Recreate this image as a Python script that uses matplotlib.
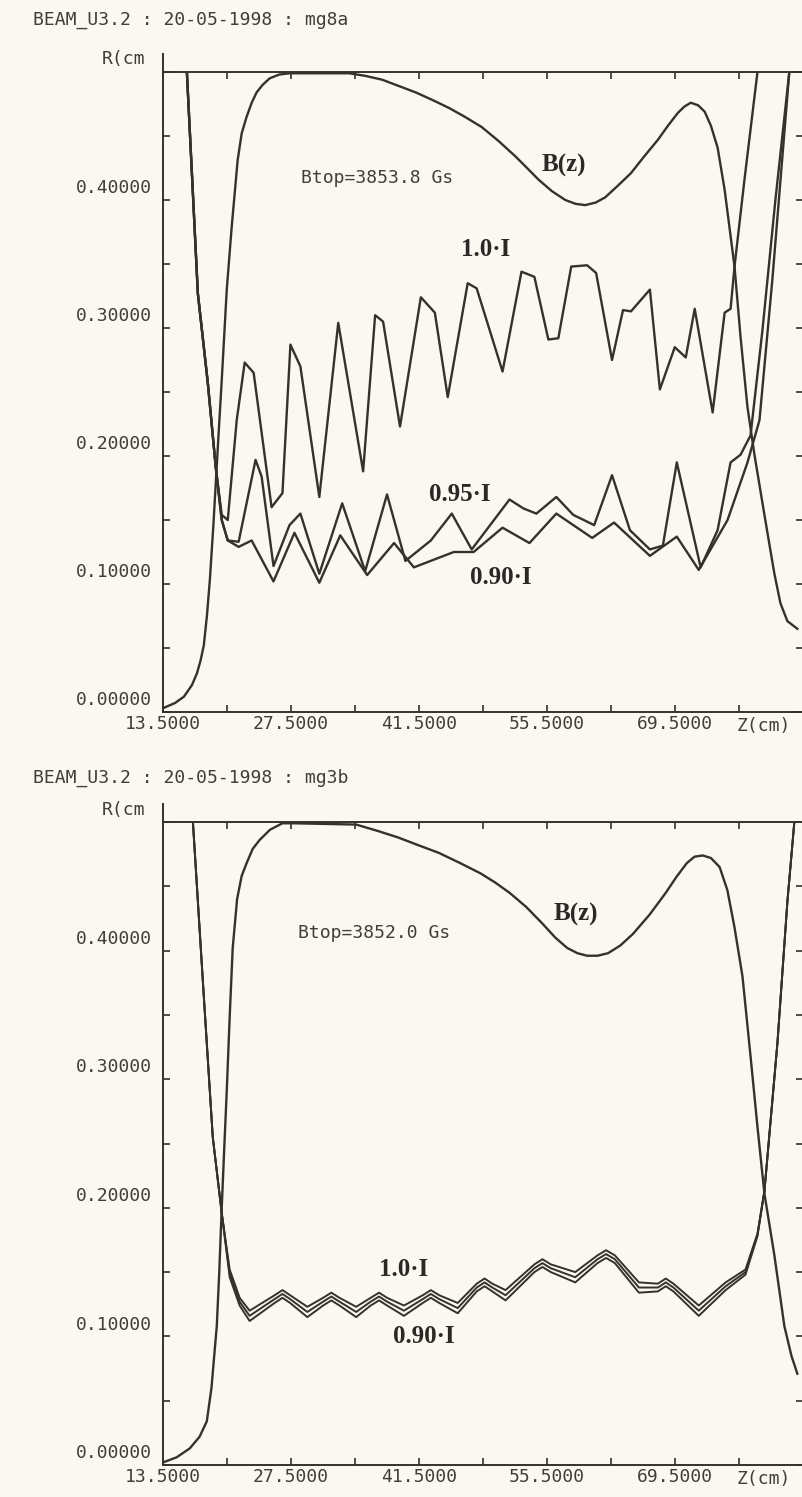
import numpy as np
import matplotlib.pyplot as plt
from matplotlib.transforms import ScaledTranslation

# ---------------- run mg8a (Btop = 3853.8 Gs) ----------------
z_b_a = [13.5, 14.81, 15.79, 16.66, 17.20, 17.6, 17.96, 18.3, 18.62, 19.0, 19.27, 19.6,
         19.92, 20.47, 21.01, 21.66, 22.1, 22.64, 23.2, 23.73, 24.4, 25.15, 26.2, 27.33,
         33.86, 35.6, 37.45, 39.3, 41.15, 43.0, 44.74, 46.5, 48.34, 50.2, 52.04, 53.3,
         54.54, 56.0, 57.48, 58.6, 59.66, 60.8, 61.83, 63.2, 64.66, 66.1, 67.60, 68.7,
         69.78, 70.5, 71.20, 72.0, 72.72, 73.4, 74.13, 74.90, 75.98, 76.64, 77.40, 78.16,
         79.25, 80.34, 81.0, 81.76, 82.85]
r_b_a = [0.003, 0.007, 0.012, 0.021, 0.030, 0.040, 0.052, 0.075, 0.103, 0.145, 0.179, 0.220,
         0.259, 0.330, 0.379, 0.431, 0.452, 0.465, 0.476, 0.484, 0.490, 0.495, 0.498, 0.499,
         0.499, 0.497, 0.494, 0.489, 0.484, 0.478, 0.472, 0.465, 0.457, 0.446, 0.434, 0.425,
         0.416, 0.407, 0.400, 0.397, 0.396, 0.398, 0.402, 0.411, 0.421, 0.434, 0.447, 0.458,
         0.468, 0.473, 0.476, 0.474, 0.469, 0.458, 0.441, 0.408, 0.348, 0.293, 0.238, 0.201,
         0.154, 0.108, 0.085, 0.071, 0.065]

z_i100_a = [16.11, 16.77, 17.31, 18.40, 19.27, 19.92, 20.58, 21.56, 22.43, 23.41, 25.37,
            26.56, 27.43, 28.52, 30.59, 32.66, 35.38, 36.69, 37.56, 39.41, 41.69, 43.22,
            44.63, 46.81, 47.79, 50.62, 52.69, 54.10, 55.63, 56.72, 58.13, 59.87, 60.85,
            62.59, 63.79, 64.66, 66.73, 67.82, 69.45, 70.65, 71.63, 73.59, 74.90, 75.55,
            75.98, 77.07, 78.49]
r_i100_a = [0.500, 0.405, 0.327, 0.257, 0.191, 0.154, 0.150, 0.228, 0.273, 0.265, 0.160,
            0.171, 0.287, 0.270, 0.168, 0.304, 0.188, 0.310, 0.305, 0.223, 0.324, 0.312,
            0.246, 0.335, 0.331, 0.266, 0.344, 0.340, 0.291, 0.292, 0.348, 0.349, 0.343,
            0.275, 0.314, 0.313, 0.330, 0.252, 0.285, 0.277, 0.315, 0.234, 0.312, 0.315,
            0.348, 0.416, 0.500]

z_i095_a = [16.11, 16.77, 17.31, 18.40, 19.27, 19.92, 20.58, 21.77, 23.62, 24.28, 25.58,
            27.33, 28.52, 30.59, 33.09, 35.60, 37.99, 40.00, 42.78, 45.07, 47.25, 51.38,
            52.91, 54.32, 56.50, 58.35, 60.64, 62.59, 64.55, 66.73, 68.15, 69.67, 72.28,
            74.13, 75.55, 76.64, 77.73, 79.03, 80.45, 81.97]
r_i095_a = [0.500, 0.405, 0.327, 0.257, 0.191, 0.150, 0.134, 0.133, 0.197, 0.184, 0.114,
            0.146, 0.155, 0.108, 0.163, 0.110, 0.170, 0.118, 0.134, 0.155, 0.127, 0.166,
            0.159, 0.155, 0.168, 0.154, 0.146, 0.185, 0.142, 0.127, 0.130, 0.195, 0.113,
            0.142, 0.195, 0.201, 0.216, 0.298, 0.400, 0.500]

z_i090_a = [16.11, 16.77, 17.31, 18.40, 19.27, 19.92, 20.58, 21.77, 23.19, 25.58, 27.87,
            30.59, 32.88, 35.82, 38.76, 40.93, 45.29, 47.46, 50.62, 53.56, 56.50, 60.42,
            62.81, 66.73, 69.67, 72.07, 75.22, 77.40, 78.71, 80.12, 81.97]
r_i090_a = [0.500, 0.405, 0.327, 0.257, 0.191, 0.150, 0.134, 0.129, 0.134, 0.102, 0.140,
            0.101, 0.138, 0.107, 0.132, 0.113, 0.125, 0.125, 0.144, 0.132, 0.155, 0.136,
            0.148, 0.122, 0.137, 0.111, 0.150, 0.195, 0.228, 0.338, 0.500]

# ---------------- run mg3b (Btop = 3852.0 Gs) ----------------
z_b_b = [13.5, 15.0, 16.44, 17.5, 18.29, 18.8, 19.1, 19.38, 19.65, 19.92, 20.2, 20.47,
         20.8, 21.12, 21.6, 22.1, 22.64, 23.3, 24.06, 25.2, 26.56, 27.87, 34.62, 37.0,
         39.19, 41.4, 43.65, 46.0, 48.23, 49.8, 51.38, 53.2, 54.98, 56.4, 57.70, 58.8,
         59.87, 61.0, 62.16, 63.5, 64.88, 66.7, 68.47, 69.6, 70.76, 71.6, 72.50, 73.4,
         74.35, 75.2, 75.98, 76.85, 77.73, 78.49, 79.25, 80.34, 81.43, 82.2, 82.85]
r_b_b = [0.002, 0.006, 0.013, 0.022, 0.034, 0.060, 0.085, 0.108, 0.150, 0.200, 0.247, 0.291,
         0.350, 0.402, 0.440, 0.458, 0.468, 0.479, 0.486, 0.494, 0.499, 0.499, 0.498, 0.493,
         0.488, 0.482, 0.476, 0.468, 0.460, 0.453, 0.445, 0.434, 0.421, 0.410, 0.402, 0.398,
         0.396, 0.396, 0.398, 0.404, 0.413, 0.428, 0.445, 0.457, 0.468, 0.473, 0.474, 0.472,
         0.465, 0.447, 0.418, 0.380, 0.318, 0.263, 0.211, 0.163, 0.108, 0.085, 0.071]

z_rip_b = [16.77, 17.85, 18.94, 19.92, 20.79, 21.88, 22.97,
           25.7, 26.56, 27.4, 29.28, 31.0, 31.90, 32.8, 34.62,
           36.2, 37.12, 38.0, 39.84, 41.9, 42.78, 43.7, 45.72,
           47.8, 48.66, 49.5, 50.95, 54.1, 54.98, 55.9, 58.57,
           61.0, 61.94, 62.9, 65.53, 67.6, 68.47, 69.3, 72.07,
           75.01, 77.18, 78.49, 79.25, 80.67, 81.76, 82.52]
r_i100_b = [0.500, 0.377, 0.255, 0.196, 0.152, 0.130, 0.120,
            0.132, 0.136, 0.132, 0.123, 0.130, 0.134, 0.130, 0.123,
            0.130, 0.134, 0.130, 0.124, 0.132, 0.136, 0.132, 0.126,
            0.141, 0.145, 0.141, 0.136, 0.156, 0.160, 0.156, 0.150,
            0.163, 0.167, 0.163, 0.142, 0.141, 0.145, 0.141, 0.124,
            0.142, 0.152, 0.180, 0.213, 0.328, 0.438, 0.500]
r_i095_b = [0.500, 0.377, 0.255, 0.196, 0.149, 0.127, 0.116,
            0.129, 0.133, 0.129, 0.119, 0.127, 0.131, 0.127, 0.119,
            0.127, 0.131, 0.127, 0.120, 0.129, 0.133, 0.129, 0.122,
            0.138, 0.142, 0.138, 0.132, 0.153, 0.157, 0.153, 0.146,
            0.160, 0.164, 0.160, 0.138, 0.138, 0.142, 0.138, 0.120,
            0.139, 0.150, 0.179, 0.213, 0.328, 0.438, 0.500]
r_i090_b = [0.500, 0.377, 0.255, 0.196, 0.146, 0.124, 0.112,
            0.126, 0.130, 0.126, 0.115, 0.124, 0.128, 0.124, 0.115,
            0.124, 0.128, 0.124, 0.116, 0.126, 0.130, 0.126, 0.118,
            0.135, 0.139, 0.135, 0.128, 0.150, 0.154, 0.150, 0.142,
            0.157, 0.161, 0.157, 0.134, 0.135, 0.139, 0.135, 0.116,
            0.136, 0.148, 0.178, 0.213, 0.328, 0.438, 0.500]

x_ticks = np.arange(13.5, 84, 7)
x_labels = ['13.5000', '', '27.5000', '', '41.5000', '', '55.5000', '', '69.5000', '', '']
y_ticks = np.arange(0, 0.501, 0.05)
y_labels = ['0.00000', '', '0.10000', '', '0.20000', '', '0.30000', '', '0.40000', '', '']

paper = '#faf8f1'
ink = '#35312c'
dos = '#403f36'
mono = 'DejaVu Sans Mono'
hand = dict(family='Liberation Serif', fontweight='bold', fontsize=18, color='#2b2926')

W, H = 802, 1497
fig = plt.figure(figsize=(W / 100, H / 100), dpi=100, facecolor=paper)


def frame(top_px, bottom_px):
    ax = fig.add_axes([163 / W, 1 - bottom_px / H, (803.3 - 163) / W, (bottom_px - top_px) / H])
    ax.set_facecolor(paper)
    ax.set_xlim(13.5, 83.2)
    ax.set_ylim(0, 0.5)
    for s in ax.spines.values():
        s.set_color(ink)
        s.set_linewidth(1.4)
    ax.set_xticks(x_ticks)
    ax.set_xticklabels(x_labels, family=mono, fontsize=13, color=dos)
    ax.set_yticks(y_ticks)
    ax.set_yticklabels(y_labels, family=mono, fontsize=13, color=dos)
    ax.tick_params(direction='in', length=5, width=1.2, color=ink,
                   top=True, right=True, pad=8)
    ax.tick_params(axis='x', pad=2)
    # printer put the numbers a little above their ticks
    shift = ScaledTranslation(0, 10 / 72, fig.dpi_scale_trans)
    for lab in ax.get_yticklabels():
        lab.set_transform(lab.get_transform() + shift)
    ax.text(76.2, -0.004, 'Z(cm)', family=mono, fontsize=13, color=dos,
            ha='left', va='top', clip_on=False)
    # y axis sticks out above the frame
    ax.plot([0, 0], [1, 1.028], transform=ax.transAxes, color=ink, lw=1.4, clip_on=False)
    return ax


def curve(ax, z, r, lw=1.7):
    ax.plot(z, r, color=ink, lw=lw, solid_joinstyle='round')


# upper plot
ax1 = frame(72, 712)
curve(ax1, z_b_a, r_b_a)
curve(ax1, z_i100_a, r_i100_a)
curve(ax1, z_i095_a, r_i095_a)
curve(ax1, z_i090_a, r_i090_a)
ax1.text(28.6, 0.417, 'Btop=3853.8 Gs', family=mono, fontsize=13, color=dos, va='center')
ax1.text(57.3, 0.427, 'B(z)', ha='center', va='center', **hand)
ax1.text(48.8, 0.361, '1.0\u00b7I', ha='center', va='center', **hand)
ax1.text(45.9, 0.170, '0.95\u00b7I', ha='center', va='center', **hand)
ax1.text(50.4, 0.105, '0.90\u00b7I', ha='center', va='center', **hand)

# lower plot
ax2 = frame(822, 1465)
curve(ax2, z_b_b, r_b_b)
curve(ax2, z_rip_b, r_i100_b, lw=1.4)
curve(ax2, z_rip_b, r_i095_b, lw=1.4)
curve(ax2, z_rip_b, r_i090_b, lw=1.4)
ax2.text(28.3, 0.414, 'Btop=3852.0 Gs', family=mono, fontsize=13, color=dos, va='center')
ax2.text(58.6, 0.428, 'B(z)', ha='center', va='center', **hand)
ax2.text(39.8, 0.152, '1.0\u00b7I', ha='center', va='center', **hand)
ax2.text(42.0, 0.100, '0.90\u00b7I', ha='center', va='center', **hand)

# headers printed by the program
fig.text(33 / W, 1 - 20 / H, 'BEAM_U3.2 : 20-05-1998 : mg8a', family=mono,
         fontsize=13, color=dos, va='center')
fig.text(102 / W, 1 - 59 / H, 'R(cm', family=mono, fontsize=13, color=dos, va='center')
fig.text(33 / W, 1 - 778 / H, 'BEAM_U3.2 : 20-05-1998 : mg3b', family=mono,
         fontsize=13, color=dos, va='center')
fig.text(102 / W, 1 - 810 / H, 'R(cm', family=mono, fontsize=13, color=dos, va='center')

fig.savefig('out.png', dpi=100, facecolor=paper)
